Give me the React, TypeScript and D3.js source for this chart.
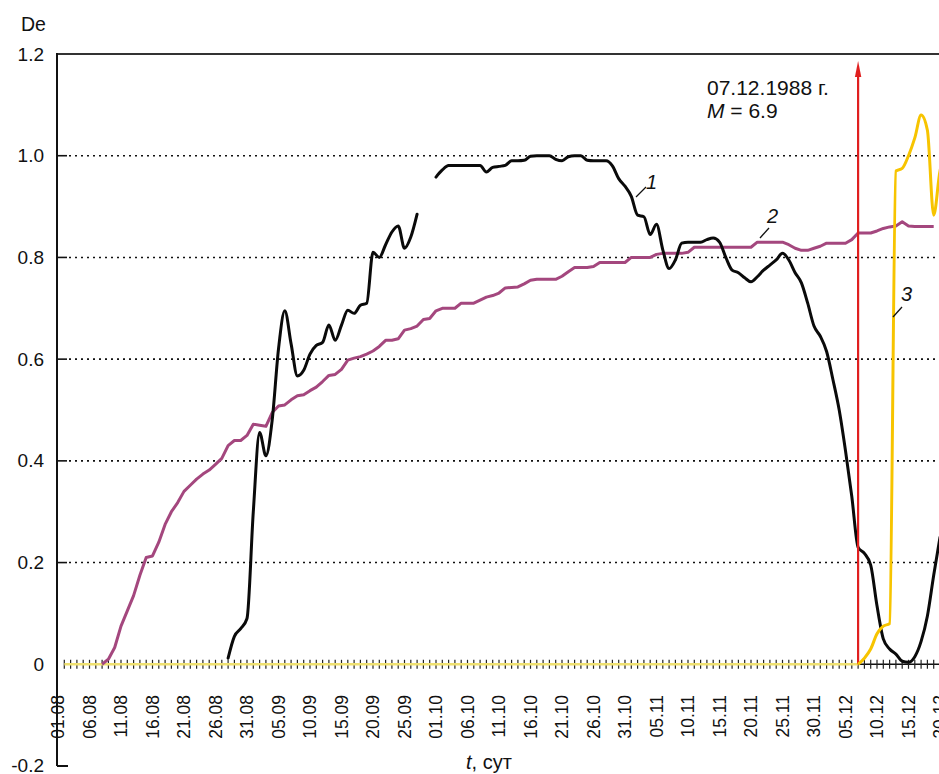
import React from 'react';
import * as d3 from 'd3';

// Date labels, one every fifth observation day
const tickLabels = [
  '01.08', '06.08', '11.08', '16.08', '21.08', '26.08', '31.08', '05.09', '10.09', '15.09',
  '20.09', '25.09', '01.10', '06.10', '11.10', '16.10', '21.10', '26.10', '31.10', '05.11',
  '10.11', '15.11', '20.11', '25.11', '30.11', '05.12', '10.12', '15.12', '20.12',
];
const labelEvery = 5;
const lastDay = 141;
const yTicks = [-0.2, 0, 0.2, 0.4, 0.6, 0.8, 1.0, 1.2];
const gridValues = [0.2, 0.4, 0.6, 0.8, 1.0];

// Curve 1, first segment (starting at day index 27)
const curve1aStart = 27;
const curve1a = [
  0.012, 0.055, 0.07, 0.09, 0.30, 0.456, 0.41, 0.48, 0.62, 0.695,
  0.63, 0.567, 0.578, 0.61, 0.627, 0.633, 0.667, 0.637, 0.667, 0.696,
  0.69, 0.706, 0.71, 0.81, 0.80, 0.825, 0.85, 0.862, 0.818, 0.84,
  0.885,
];

// Curve 1, second segment (starting at day index 60)
const curve1bStart = 60;
const curve1b = [
  0.958, 0.972, 0.981, 0.981, 0.981, 0.981, 0.981, 0.981, 0.968, 0.977,
  0.979, 0.981, 0.99, 0.99, 0.991, 0.999, 1.0, 1.0, 1.0, 0.993,
  0.99, 0.998, 1.0, 1.0, 0.991, 0.99, 0.99, 0.99, 0.98, 0.955,
  0.94, 0.92, 0.883, 0.88, 0.845, 0.865, 0.815, 0.778, 0.795, 0.828,
  0.83, 0.83, 0.83, 0.835, 0.838, 0.83, 0.80, 0.775, 0.77, 0.76,
  0.752, 0.762, 0.775, 0.785, 0.795, 0.808, 0.795, 0.77, 0.75, 0.71,
  0.665, 0.645, 0.615, 0.56, 0.5, 0.42, 0.33, 0.23, 0.218, 0.195,
  0.115, 0.05, 0.03, 0.02, 0.006, 0.004, 0.015, 0.045, 0.095, 0.175,
  0.25,
];

// Curve 2 (starting at day index 7)
const curve2Start = 7;
const curve2 = [
  0, 0.01, 0.033, 0.075, 0.105, 0.135, 0.175, 0.21, 0.213, 0.24,
  0.275, 0.30, 0.318, 0.34, 0.352, 0.364, 0.374, 0.382, 0.393, 0.405,
  0.43, 0.44, 0.44, 0.45, 0.472, 0.47, 0.468, 0.495, 0.508, 0.51,
  0.52, 0.528, 0.53, 0.538, 0.545, 0.556, 0.568, 0.57, 0.58, 0.598,
  0.602, 0.605, 0.61, 0.616, 0.625, 0.637, 0.637, 0.64, 0.657, 0.66,
  0.665, 0.678, 0.68, 0.695, 0.70, 0.70, 0.70, 0.71, 0.71, 0.71,
  0.716, 0.722, 0.725, 0.73, 0.74, 0.741, 0.742, 0.748, 0.755, 0.757,
  0.757, 0.757, 0.757, 0.763, 0.772, 0.78, 0.78, 0.78, 0.782, 0.79,
  0.79, 0.79, 0.79, 0.79, 0.80, 0.80, 0.80, 0.80, 0.806, 0.808,
  0.808, 0.808, 0.808, 0.81, 0.82, 0.82, 0.82, 0.82, 0.82, 0.82,
  0.82, 0.82, 0.82, 0.82, 0.83, 0.83, 0.83, 0.83, 0.83, 0.825,
  0.818, 0.814, 0.814, 0.818, 0.822, 0.828, 0.828, 0.828, 0.828, 0.835,
  0.848, 0.848, 0.848, 0.852, 0.857, 0.86, 0.862, 0.87, 0.862, 0.861,
  0.861, 0.861, 0.861,
];

// Curve 3 (starting at day index 1)
const curve3Start = 1;
const curve3 = [
  0, 0, 0, 0, 0, 0, 0, 0, 0, 0, 0, 0, 0, 0, 0, 0, 0, 0, 0, 0,
  0, 0, 0, 0, 0, 0, 0, 0, 0, 0, 0, 0, 0, 0, 0, 0, 0, 0, 0, 0,
  0, 0, 0, 0, 0, 0, 0, 0, 0, 0, 0, 0, 0, 0, 0, 0, 0, 0, 0, 0,
  0, 0, 0, 0, 0, 0, 0, 0, 0, 0, 0, 0, 0, 0, 0, 0, 0, 0, 0, 0,
  0, 0, 0, 0, 0, 0, 0, 0, 0, 0, 0, 0, 0, 0, 0, 0, 0, 0, 0, 0,
  0, 0, 0, 0, 0, 0, 0, 0, 0, 0, 0, 0, 0, 0, 0, 0, 0, 0, 0, 0,
  0, 0, 0, 0, 0, 0, 0,
  0.012, 0.03, 0.06, 0.075, 0.08, 0.97, 0.975, 1.0, 1.035, 1.08,
  1.05, 0.883, 0.97, 1.0,
];

// Earthquake marker
const quakeDay = 127;
const quakeTitle = '07.12.1988 г.';
const quakeMagnitude = '6.9';

const W = 939;
const H = 774;
const FONT = '"Liberation Sans", Arial, Helvetica, sans-serif';

type Pt = [number, number];
const toPoints = (start: number, vals: number[]): Pt[] => vals.map((v, k) => [start + k, v]);

export default function App() {
  const x = d3.scaleLinear().domain([0, 140]).range([58, 58 + 140 * 6.3]);
  const y = d3.scaleLinear().domain([-0.2, 1.2]).range([766, 54]);

  const linear = d3.line<Pt>().x(d => x(d[0])).y(d => y(d[1]));
  const smooth = d3.line<Pt>().x(d => x(d[0])).y(d => y(d[1])).curve(d3.curveMonotoneX);

  const c3 = toPoints(curve3Start, curve3);
  const flatEnd = c3.findIndex(p => p[1] > 0);
  const c3flat = c3.slice(0, flatEnd);
  const c3rise = c3.slice(flatEnd - 1);

  const dayTicks = d3.range(1, lastDay + 1);
  const axisLeft = 57;
  const y0 = y(0);
  const qx = x(quakeDay);

  return (
    <svg width={W} height={H} viewBox={`0 0 ${W} ${H}`}
      style={{ position: 'absolute', left: 0, top: 0, background: '#fff', fontFamily: FONT }}>
      {/* dotted horizontal grid */}
      {gridValues.map(v => (
        <g key={v}>
          <line x1={axisLeft} x2={67} y1={y(v)} y2={y(v)} stroke="#111" strokeWidth={1.6} />
          <line x1={69} x2={W} y1={y(v)} y2={y(v)} stroke="#111" strokeWidth={1.6} strokeDasharray="2 4" />
        </g>
      ))}

      {/* x tick labels */}
      {tickLabels.map((lab, k) => (
        <text key={lab} transform={`translate(${x(k * labelEvery)},695) rotate(-90)`}
          textAnchor="end" dominantBaseline="central" fontSize={17.5} fill="#111">
          {lab}
        </text>
      ))}

      {/* frame */}
      <line x1={axisLeft} x2={W} y1={y(1.2)} y2={y(1.2)} stroke="#333" strokeWidth={2.2} />
      <line x1={axisLeft} x2={axisLeft} y1={y(1.2) - 1} y2={y(-0.2)} stroke="#111" strokeWidth={2} />
      <line x1={axisLeft} x2={68} y1={y(-0.2)} y2={y(-0.2)} stroke="#111" strokeWidth={2} />

      {/* y tick labels */}
      {yTicks.map(v => (
        <text key={v} x={44} y={y(v) - (v < 0 ? 1 : 0)} textAnchor="end" dominantBaseline="central"
          fontSize={19} fill="#111">
          {v === 0 ? '0' : v.toFixed(1)}
        </text>
      ))}
      <text x={21} y={31} fontSize={19.5} fill="#111">De</text>

      {/* x baseline and daily ticks */}
      <line x1={x(1)} x2={W} y1={y0} y2={y0} stroke="#111" strokeWidth={1.5} />
      {dayTicks.map(d => (
        <line key={d} x1={x(d)} x2={x(d)} y1={y0 - 4.5} y2={y0 + 4.5} stroke="#222" strokeWidth={1.2} />
      ))}

      <text x={466} y={769} fontSize={20} fill="#111">
        <tspan fontStyle="italic">t</tspan>, сут
      </text>

      {/* curve 3, flat part */}
      <path d={linear(c3flat) ?? ''} fill="none" stroke="#efe070" strokeWidth={2.4} />

      {/* curve 2 */}
      <path d={linear(toPoints(curve2Start, curve2)) ?? ''} fill="none" stroke="#a4477e"
        strokeWidth={3} strokeLinejoin="round" />

      {/* curve 1 */}
      <path d={smooth(toPoints(curve1aStart, curve1a)) ?? ''} fill="none" stroke="#0a0a0a"
        strokeWidth={3} strokeLinejoin="round" strokeLinecap="round" />
      <path d={smooth(toPoints(curve1bStart, curve1b)) ?? ''} fill="none" stroke="#0a0a0a"
        strokeWidth={3} strokeLinejoin="round" strokeLinecap="round" />

      {/* earthquake marker */}
      <line x1={qx} x2={qx} y1={y0} y2={72} stroke="#e01f1f" strokeWidth={2.2} />
      <polygon points={`${qx},61 ${qx - 3.2},77 ${qx + 3.2},77`} fill="#e01f1f" />

      {/* curve 3, rise after the event */}
      <path d={smooth(c3rise) ?? ''} fill="none" stroke="#f7c400" strokeWidth={3} strokeLinejoin="round" />

      <text x={707} y={95} fontSize={21} fill="#111">{quakeTitle}</text>
      <text x={707} y={118} fontSize={21} fill="#111">
        <tspan fontStyle="italic">M</tspan> = {quakeMagnitude}
      </text>

      {/* curve numbers */}
      <line x1={636} y1={197} x2={646} y2={187} stroke="#111" strokeWidth={1.3} />
      <text x={646} y={189} fontSize={20} fontStyle="italic" fill="#111">1</text>
      <line x1={760} y1={238} x2={769} y2={228} stroke="#111" strokeWidth={1.3} />
      <text x={767} y={223} fontSize={20} fontStyle="italic" fill="#111">2</text>
      <line x1={893} y1={317} x2={902} y2={307} stroke="#111" strokeWidth={1.3} />
      <text x={901} y={301} fontSize={20} fontStyle="italic" fill="#111">3</text>
    </svg>
  );
}
